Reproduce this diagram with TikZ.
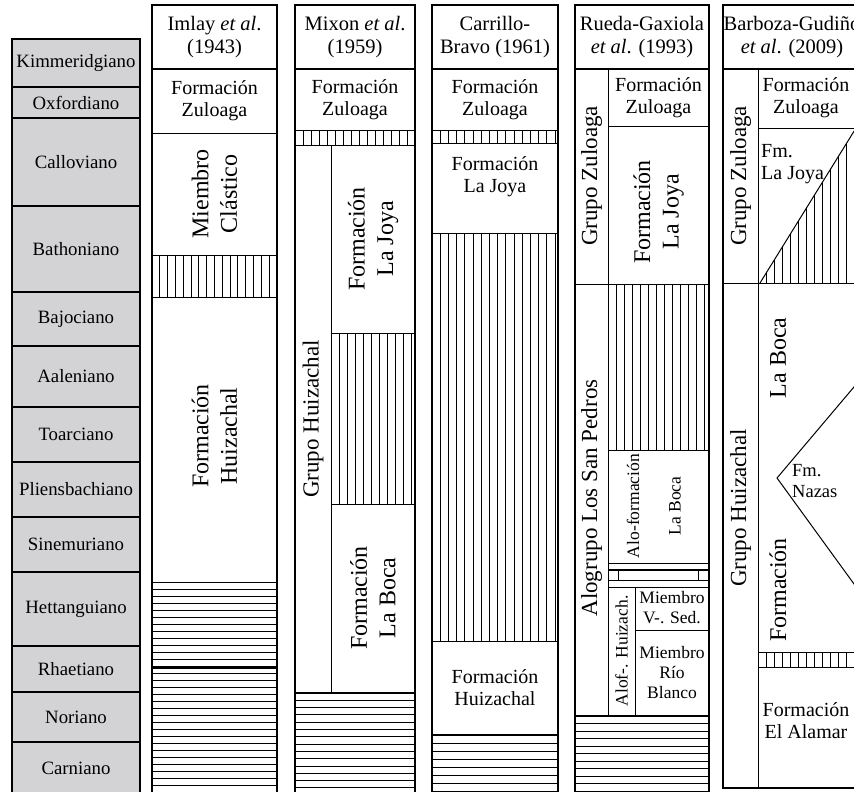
\documentclass[tikz,border=0pt]{standalone}
\usepackage{fontspec}
\setmainfont{Liberation Serif}
\definecolor{stagegray}{RGB}{211,211,214}
\newcommand\stagefont{\fontsize{18.8}{21}\selectfont}
\newcommand\headfont{\fontsize{20.5}{23}\selectfont}
\newcommand\labfont{\fontsize{20}{22}\selectfont}
\newcommand\rotfont{\fontsize{24}{28.5}\selectfont}
\newcommand\grpfont{\fontsize{23}{26}\selectfont}
\newcommand\smallfont{\fontsize{17.5}{20}\selectfont}
\newcommand\nazasfont{\fontsize{18.5}{21}\selectfont}
\newcommand\vhatch[5]{%
  \begin{scope}
    \clip (#1,#2) rectangle (#3,#4);
    \pgfmathtruncatemacro\nh{(#3-#1)/#5}
    \foreach \i in {1,...,\nh}{\draw[hatchline] ({#1+\i*#5},#2) -- ({#1+\i*#5},#4);}
  \end{scope}}
\newcommand\hhatch[5]{%
  \begin{scope}
    \clip (#1,#2) rectangle (#3,#4);
    \pgfmathtruncatemacro\nh{(#4-#2)/#5}
    \foreach \i in {1,...,\nh}{\draw[hatchline] (#1,{#2+\i*#5}) -- (#3,{#2+\i*#5});}
  \end{scope}}
\begin{document}
\begin{tikzpicture}[x=1pt,y=-1pt,
  stagebox/.style={draw=black,line width=2.4pt,fill=stagegray},
  colbox/.style={draw=black,line width=2.2pt},
  divline/.style={draw=black,line width=1pt},
  sideline/.style={draw=black,line width=1.2pt},
  hatchline/.style={draw=black,line width=0.9pt},
  stagelab/.style={font=\stagefont,inner sep=0pt},
  headlab/.style={font=\headfont,align=center,inner sep=0pt},
  lab/.style={font=\labfont,align=center,inner sep=0pt},
  rlab/.style={font=\rotfont,align=center,rotate=90,inner sep=0pt},
  glab/.style={font=\grpfont,align=center,rotate=90,inner sep=0pt},
  slab/.style={font=\smallfont,align=center,inner sep=0pt},
  srlab/.style={font=\smallfont,align=center,rotate=90,inner sep=0pt}]
\useasboundingbox[fill=white] (0,0) rectangle (854,792);

% ---------------- stage column ----------------
\foreach \nm/\t/\b [count=\k] in {Kimmeridgiano/39/87,Oxfordiano/87/118,Calloviano/118/206,
  Bathoniano/206/292,Bajociano/292/346,Aaleniano/346/407,Toarciano/407/462,
  Pliensbachiano/462/517,Sinemuriano/517/572,Hettanguiano/572/646,
  Rhaetiano/646/692,Noriano/692/742,Carniano/742/805}{
  \draw[stagebox] (12,\t) rectangle (140,\b);
}
\foreach \nm/\y [count=\k] in {Kimmeridgiano/63,Oxfordiano/102.5,Calloviano/162,
  Bathoniano/249,Bajociano/319,Aaleniano/376.5,Toarciano/434.5,
  Pliensbachiano/489.5,Sinemuriano/544.5,Hettanguiano/609,
  Rhaetiano/669,Noriano/717,Carniano/768}{
  \node[stagelab] (st\k) at (76,\y) {\nm};
}

% ---------------- column 1: Imlay ----------------
\vhatch{152}{255}{277}{297}{7.8}
\hhatch{152}{582}{277}{800}{7}
\draw[sideline] (152,668) -- (152,800) (277,668) -- (277,800);
\draw[divline] (152,133) -- (277,133);
\draw[divline] (152,255) -- (277,255) (152,297) -- (277,297) (152,582) -- (277,582);
\draw[colbox] (152,5) rectangle (277,69);
\draw[colbox] (152,69) rectangle (277,668);
\node[headlab] (h1) at (214.5,37) {Imlay \textit{et al}.\\(1943)};
\node[lab] (c1z) at (214.5,101) {Formación\\Zuloaga};
\node[rlab] (c1m) at (214.5,194) {Miembro\\Clástico};
\node[rlab] (c1h) at (214.5,436) {Formación\\Huizachal};

% ---------------- column 2: Mixon ----------------
\vhatch{295}{130}{415}{145}{8}
\vhatch{331}{333}{415}{504}{8}
\hhatch{295}{693}{415}{800}{7.3}
\draw[sideline] (295,693) -- (295,800) (415,693) -- (415,800);
\draw[divline] (295,130) -- (415,130) (295,145) -- (415,145);
\draw[divline] (331,145) -- (331,693);
\draw[divline] (331,333) -- (415,333) (331,504) -- (415,504);
\draw[colbox] (295,5) rectangle (415,69);
\draw[colbox] (295,69) rectangle (415,693);
\node[headlab] (h2) at (355,37) {Mixon \textit{et al}.\\(1959)};
\node[lab] (c2z) at (355,100) {Formación\\Zuloaga};
\node[rlab] (c2j) at (373,239) {Formación\\La Joya};
\node[rlab] (c2b) at (373,598) {Formación\\La Boca};
\node[glab] (c2g) at (313,419) {Grupo Huizachal};

% ---------------- column 3: Carrillo-Bravo ----------------
\vhatch{432}{130}{558}{143}{8.2}
\vhatch{432}{233}{558}{641}{8.2}
\hhatch{432}{735}{558}{800}{8}
\draw[sideline] (432,735) -- (432,800) (558,735) -- (558,800);
\draw[divline] (432,130) -- (558,130) (432,143) -- (558,143);
\draw[divline] (432,233) -- (558,233) (432,641) -- (558,641);
\draw[colbox] (432,5) rectangle (558,69);
\draw[colbox] (432,69) rectangle (558,735);
\node[headlab] (h3) at (495,37) {Carrillo-\\Bravo (1961)};
\node[lab] (c3z) at (495,100) {Formación\\Zuloaga};
\node[lab] (c3j) at (495,177) {Formación\\La Joya};
\node[lab] (c3h) at (495,688) {Formación\\Huizachal};

% ---------------- column 4: Rueda-Gaxiola ----------------
\vhatch{608}{284}{709}{450}{8}
\hhatch{575}{716}{709}{800}{7.5}
\draw[sideline] (575,716) -- (575,800) (709,716) -- (709,800);
\draw[divline] (608,69) -- (608,716);
\draw[divline] (608,126) -- (709,126);
\draw[divline] (575,284) -- (709,284) (608,450) -- (709,450);
\draw[divline] (608,563) -- (709,563);
\draw[line width=1.6pt] (608,570) -- (709,570);
\draw[divline] (608,580) -- (709,580) (608,587) -- (709,587);
\draw[divline] (618,570) -- (618,580) (698,570) -- (698,580);
\draw[divline] (635,587) -- (635,716);
\draw[divline] (635,630) -- (709,630);
\draw[colbox] (575,5) rectangle (709,69);
\draw[colbox] (575,69) rectangle (709,716);
\node[headlab] (h4) at (642,37) {Rueda-Gaxiola\\\textit{et al}. (1993)};
\node[lab] (c4z) at (658.5,97.5) {Formación\\Zuloaga};
\node[rlab] (c4j) at (658.5,212) {Formación\\La Joya};
\node[srlab] (c4a) at (633,506) {Alo-formación};
\node[srlab] (c4b) at (675,506) {La Boca};
\node[slab] (c4v) at (672,608) {Miembro\\V-. Sed.};
\node[slab] (c4r) at (672,673) {Miembro\\Río\\Blanco};
\node[srlab] (c4h) at (621.5,651) {Alof-. Huizach.};
\node[glab] (c4g) at (591.5,176) {Grupo Zuloaga};
\node[glab] (c4p) at (591.5,498) {Alogrupo Los San Pedros};

% ---------------- column 5: Barboza-Gudino ----------------
\begin{scope}
  \clip (760,283) -- (856,128) -- (870,128) -- (870,283) -- cycle;
  \foreach \i in {1,...,14}{\draw[hatchline] ({758+\i*8},128) -- ({758+\i*8},283);}
\end{scope}
\vhatch{758}{652}{870}{667}{8}
\draw[divline] (758,69) -- (758,788);
\draw[divline] (758,128) -- (870,128);
\draw[divline] (760,283) -- (856,128);
\draw[divline] (723,283) -- (870,283);
\draw[divline] (870,368) -- (777,478) -- (870,606);
\draw[divline] (758,652) -- (870,652) (758,667) -- (870,667);
\draw[colbox] (723,5) rectangle (861,69);
\draw[colbox] (723,69) rectangle (861,788);
\node[headlab] (h5) at (792,37) {Barboza-Gudiño\\\textit{et al}. (2009)};
\node[lab] (c5z) at (806,98) {Formación\\Zuloaga};
\node[lab,align=left,anchor=west] (c5j) at (761,164) {Fm.\\La Joya};
\node[rlab] (c5b) at (778,358) {La Boca};
\node[rlab] (c5f) at (778,590) {Formación};
\node[font=\nazasfont,inner sep=0pt,align=left,anchor=west] (c5n) at (792,481) {Fm.\\Nazas};
\node[lab] (c5a) at (806,721) {Formación\\El Alamar};
\node[glab] (c5g) at (740.5,176) {Grupo Zuloaga};
\node[glab] (c5h) at (740.5,508) {Grupo Huizachal};
\end{tikzpicture}
\end{document}
